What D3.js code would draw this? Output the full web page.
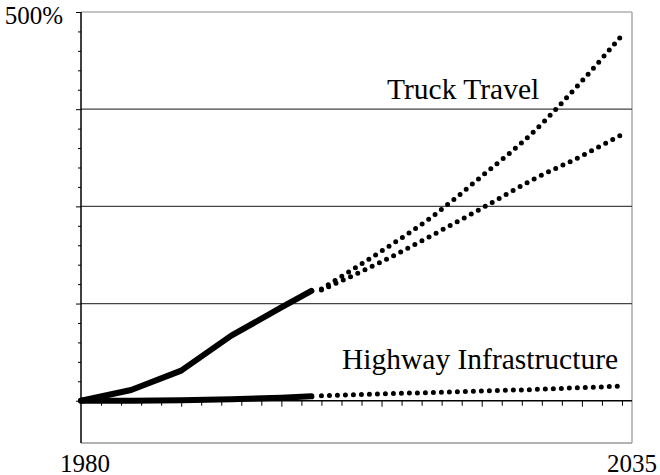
<!DOCTYPE html>
<html><head><meta charset="utf-8">
<script src="https://cdn.jsdelivr.net/npm/d3@7"></script>
<style>html,body{margin:0;padding:0;background:#fff;}</style>
</head><body>
<svg id="c" width="660" height="475"></svg>
<script>
// Data (index, 1980 = 100%)
const histYears = [1980, 1985, 1990, 1995, 2000, 2003];
const truckHist = [100, 111, 131, 167, 196, 213];
const hwyHist   = [100, 100, 100.5, 101.5, 103, 104.5];
const projYears = [2004, 2010, 2015, 2020, 2025, 2030, 2034];
const truckHigh = [215, 254, 289, 331, 375, 429, 476];
const truckLow  = [214, 243, 270, 298, 327, 352, 374];
const hwyProj   = [105, 107, 108.5, 110, 111.5, 113.5, 115];
const gridValues = [200, 300, 400];
const majorYTicks = [100, 200, 300, 400, 500];
const yLabels = ["500%"];
const xLabels = ["1980", "2035"];
const seriesLabels = ["Truck Travel", "Highway Infrastructure"];

const svg = d3.select("#c");
const x = d3.scaleLinear().domain([1980, 2035]).range([81, 632]);
const y = d3.scaleLinear().domain([56.5, 500]).range([443, 12]);
const font = "'Liberation Serif','Times New Roman',serif";

// frame
svg.append("line").attr("x1", x(1980)).attr("x2", x(2035)).attr("y1", y(500)).attr("y2", y(500)).attr("stroke", "#888").attr("stroke-width", 1.2);
svg.append("line").attr("x1", x(2035)).attr("x2", x(2035)).attr("y1", y(500)).attr("y2", y(56.5)).attr("stroke", "#aaa").attr("stroke-width", 1.5);
svg.append("line").attr("x1", x(1980)).attr("x2", x(2035)).attr("y1", y(56.5)).attr("y2", y(56.5)).attr("stroke", "#999").attr("stroke-width", 1.5);

// gridlines
svg.selectAll(".grid").data(gridValues).enter().append("line")
  .attr("x1", x(1980)).attr("x2", x(2035))
  .attr("y1", d => y(d)).attr("y2", d => y(d))
  .attr("stroke", "#444").attr("stroke-width", 1.2);

// left axis
const minorY = d3.range(100, 500.1, 20).filter(v => v % 100 !== 0);
const yAxisMinor = d3.axisLeft(y).tickValues(minorY).tickSize(3).tickFormat("");
const yAxisMajor = d3.axisLeft(y).tickValues(majorYTicks).tickSize(5).tickFormat("");
svg.append("g").attr("transform", `translate(${x(1980)},0)`).call(yAxisMinor)
  .call(g => g.select(".domain").remove());
svg.append("g").attr("transform", `translate(${x(1980)},0)`).call(yAxisMajor)
  .call(g => g.select(".domain").attr("stroke", "#000").attr("stroke-width", 1.5).attr("d", `M0,${y(500)}V${y(56.5)}`));

// bottom axis at 100%
const minorX = d3.range(1982, 2035, 2).filter(v => v % 10 !== 0);
const majorX = d3.range(1990, 2035, 10);
svg.append("g").attr("transform", `translate(0,${y(100)})`)
  .call(d3.axisBottom(x).tickValues(minorX).tickSize(5).tickFormat(""))
  .call(g => g.select(".domain").remove());
svg.append("g").attr("transform", `translate(0,${y(100)})`)
  .call(d3.axisBottom(x).tickValues(majorX).tickSize(6).tickFormat(""))
  .call(g => g.select(".domain").attr("stroke", "#000").attr("stroke-width", 1.5).attr("d", `M${x(1980)},0H${x(2035)}`));

// lines
const line = d3.line().x(d => x(d[0])).y(d => y(d[1]));
const curve = d3.line().x(d => x(d[0])).y(d => y(d[1])).curve(d3.curveMonotoneX);
function pts(xs, ys) { return xs.map((v, i) => [v, ys[i]]); }

svg.append("path").attr("d", line(pts(histYears, truckHist)))
  .attr("fill", "none").attr("stroke", "#000").attr("stroke-width", 6)
  .attr("stroke-linecap", "round").attr("stroke-linejoin", "round");
svg.append("path").attr("d", line(pts(histYears, hwyHist)))
  .attr("fill", "none").attr("stroke", "#000").attr("stroke-width", 6)
  .attr("stroke-linecap", "round").attr("stroke-linejoin", "round");

[truckHigh, truckLow, hwyProj].forEach(s => {
  svg.append("path").attr("d", curve(pts(projYears, s)))
    .attr("fill", "none").attr("stroke", "#000").attr("stroke-width", 5)
    .attr("stroke-linecap", "round").attr("stroke-dasharray", "0 8");
});

// texts
svg.append("text").attr("x", x(1980) - 18).attr("y", 23.5).attr("text-anchor", "end")
  .attr("font-family", font).attr("font-size", 25).text(yLabels[0]);
svg.append("text").attr("x", x(1980) + 4).attr("y", 471.5).attr("text-anchor", "middle")
  .attr("font-family", font).attr("font-size", 25).text(xLabels[0]);
svg.append("text").attr("x", x(2035)).attr("y", 471.5).attr("text-anchor", "middle")
  .attr("font-family", font).attr("font-size", 25).text(xLabels[1]);
svg.append("text").attr("x", 387).attr("y", 98.5)
  .attr("font-family", font).attr("font-size", 29.5).text(seriesLabels[0]);
svg.append("text").attr("x", 342).attr("y", 368.5)
  .attr("font-family", font).attr("font-size", 29.5).text(seriesLabels[1]);
</script>
</body></html>
